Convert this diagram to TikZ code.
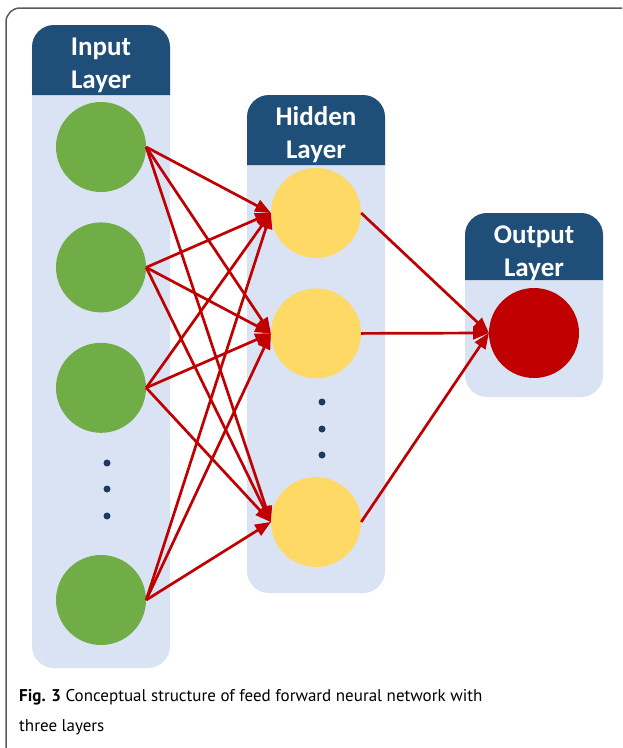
\documentclass[tikz,border=0pt]{standalone}
\usepackage{fontspec}
\setmainfont{PT Sans}
\newfontfamily\headfont{Carlito}
\usetikzlibrary{arrows,positioning}

\definecolor{headblue}{HTML}{1F4E79}
\definecolor{bodyblue}{HTML}{DAE3F3}
\definecolor{ingreen}{HTML}{70AD47}
\definecolor{hidyellow}{HTML}{FFD966}
\definecolor{outred}{HTML}{C00000}
\definecolor{dotblue}{HTML}{1F3864}
\definecolor{framegray}{HTML}{5A5A5A}

\begin{document}
\begin{tikzpicture}[x=1pt,y=-1pt,>=triangle 45,node distance=30pt,
        neuron/.style={circle,minimum size=90pt,inner sep=0pt},
        innode/.style={neuron,fill=ingreen},
        hidnode/.style={neuron,fill=hidyellow},
        outnode/.style={neuron,fill=outred},
        layertitle/.style={text=white,align=center,
            font=\headfont\bfseries\fontsize{27}{33}\selectfont},
        conn/.style={->,draw=outred,line width=2.7pt}]
    \useasboundingbox (0,0) rectangle (622,748);
    \clip (0,0) rectangle (622,748);
    \fill[white] (0,0) rectangle (622,748);
    \draw[framegray,line width=1.5pt,rounded corners=14] (6,8) rectangle (680,800);

    % layer columns: left/right/top/header bottom/bottom
    \foreach \l/\r/\t/\m/\b in {32/170/25/95/668, 247/385/95/165/593, 465/603/213/280/397} {
        \fill[bodyblue,rounded corners=22] (\l,\t) rectangle (\r,\b);
        \fill[headblue] (\l,\m) {[rounded corners=22] -- (\l,\t) -- (\r,\t)} -- (\r,\m) -- cycle;
    }

    \node[layertitle] (inTitle) at (101,65) {Input\\Layer};
    \node[layertitle] (hidTitle) at (316,135) {Hidden\\Layer};
    \node[layertitle] (outTitle) at (534,253) {Output\\Layer};

    \node[innode] (in1) at (101,147) {};
    \node[innode] (in2) [below=of in1] {};
    \node[innode] (in3) [below=of in2] {};
    \node[innode] (in4) at (101,600) {};

    \node[hidnode] (hid1) at (316,213) {};
    \node[hidnode] (hid2) [below=of hid1] {};
    \node[hidnode] (hid3) at (316,522) {};

    \node[outnode] (out) at (534,333) {};

    % vertical dots
    \foreach \y in {463,489,516}
        \fill[dotblue] (107,\y) circle (3.5);
    \foreach \y in {402,429,455}
        \fill[dotblue] (322,\y) circle (3.5);

    \foreach \i in {in1,in2,in3,in4}
        \foreach \h in {hid1,hid2,hid3}
            \draw[conn] (\i.east) -- (\h.west);
    \foreach \h in {hid1,hid2,hid3}
        \draw[conn] (\h.east) -- (out.west);

    \node[anchor=north west,align=left,inner sep=0pt,
          font=\fontsize{17}{30}\selectfont] (caption) at (19,689)
        {\textbf{Fig. 3} Conceptual structure of feed forward neural network with\\three layers};
\end{tikzpicture}
\end{document}
